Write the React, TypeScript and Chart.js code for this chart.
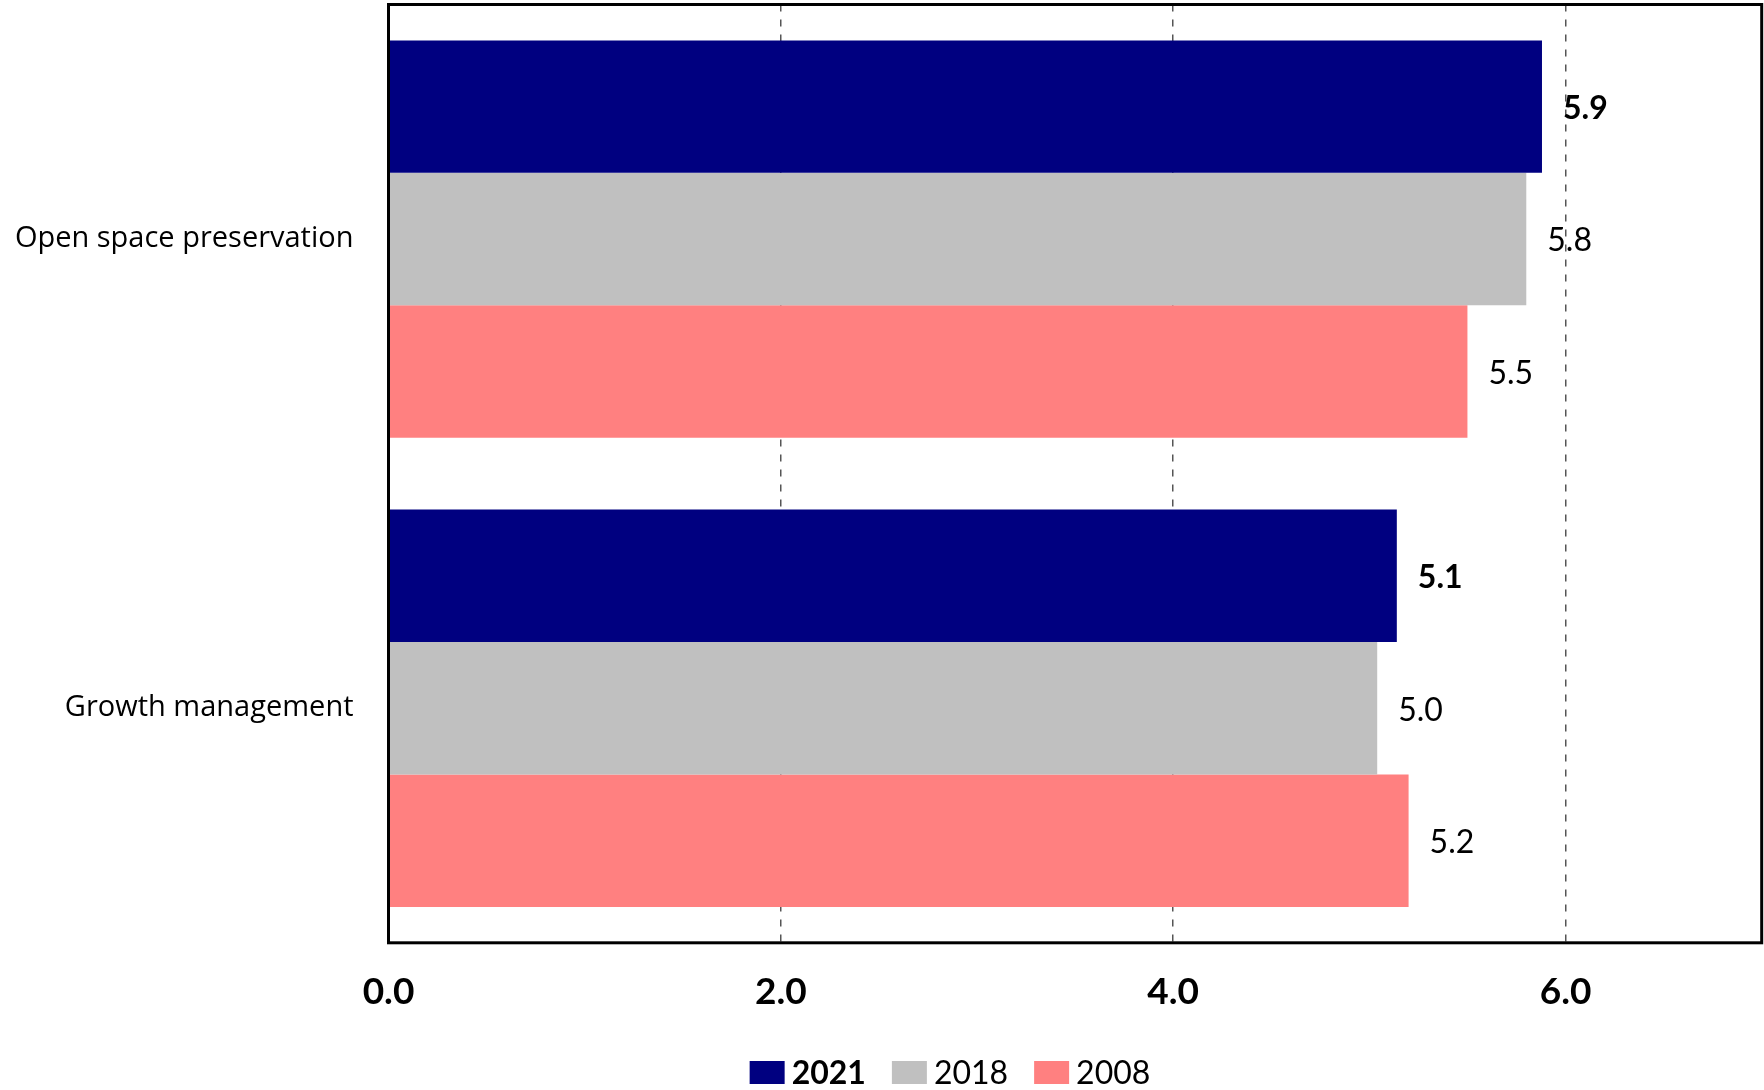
import React, { useEffect, useRef } from "react";
import { Chart, registerables } from "chart.js";

Chart.register(...registerables);

const categories = ["Open space preservation", "Growth management"];
const seriesNames = ["2021", "2018", "2008"];
const values2021 = [5.88, 5.14];
const values2018 = [5.8, 5.04];
const values2008 = [5.5, 5.2];
const seriesColors = ["#000080", "#C0C0C0", "#FF8080"];
const seriesBold = [true, false, false];
const xTicks = [0, 2, 4, 6];
const xMin = 0;
const xMax = 7;

const FONT = "Lato";
const W = 1764;
const H = 1090;

const framePlugin = {
  id: "frameAndLabels",
  afterDatasetsDraw(chart: any) {
    const { ctx, chartArea } = chart;
    ctx.save();
    chart.data.datasets.forEach((ds: any, di: number) => {
      const meta = chart.getDatasetMeta(di);
      meta.data.forEach((el: any, i: number) => {
        const v = ds.data[i];
        ctx.font = `${seriesBold[di] ? "bold " : ""}32px ${FONT}`;
        ctx.fillStyle = "#000";
        ctx.textAlign = "left";
        ctx.textBaseline = "middle";
        ctx.fillText(v.toFixed(1), el.x + 21, el.y + 2);
      });
    });
    ctx.strokeStyle = "#000";
    ctx.lineWidth = 3;
    ctx.strokeRect(
      chartArea.left,
      chartArea.top,
      chartArea.right - chartArea.left,
      chartArea.bottom - chartArea.top
    );
    ctx.restore();
  },
  afterDraw(chart: any) {
    const { ctx } = chart;
    ctx.save();
    const boxW = 35;
    const boxH = 23;
    const gapBoxText = 7;
    const gapItems = 26;
    const centerX = 950;
    const boxTop = 1061;
    const widths = seriesNames.map((n, i) => {
      ctx.font = `${seriesBold[i] ? "bold " : ""}32px ${FONT}`;
      return ctx.measureText(n).width;
    });
    let total = 0;
    widths.forEach((w, i) => {
      total += boxW + gapBoxText + w + (i < widths.length - 1 ? gapItems : 0);
    });
    let x = centerX - total / 2;
    seriesNames.forEach((n, i) => {
      ctx.fillStyle = seriesColors[i];
      ctx.fillRect(x, boxTop, boxW, boxH);
      x += boxW + gapBoxText;
      ctx.font = `${seriesBold[i] ? "bold " : ""}32px ${FONT}`;
      ctx.fillStyle = "#000";
      ctx.textAlign = "left";
      ctx.textBaseline = "middle";
      ctx.fillText(n, x, boxTop + boxH / 2 + 1);
      x += widths[i] + gapItems;
    });
    ctx.restore();
  },
};

export default function App() {
  const ref = useRef<HTMLCanvasElement>(null);
  useEffect(() => {
    if (!ref.current) return;
    const chart = new Chart(ref.current, {
      type: "bar",
      data: {
        labels: categories,
        datasets: [
          { label: seriesNames[0], data: values2021, backgroundColor: seriesColors[0] },
          { label: seriesNames[1], data: values2018, backgroundColor: seriesColors[1] },
          { label: seriesNames[2], data: values2008, backgroundColor: seriesColors[2] },
        ],
      },
      options: {
        indexAxis: "y",
        animation: false,
        responsive: false,
        devicePixelRatio: 1,
        layout: { autoPadding: false, padding: { left: 0, right: 2.3, top: 4.5, bottom: 0 } },
        datasets: {
          bar: { categoryPercentage: 0.847, barPercentage: 1, borderWidth: 0 },
        },
        plugins: {
          legend: { display: false },
          tooltip: { enabled: false },
        },
        scales: {
          x: {
            type: "linear",
            min: xMin,
            max: xMax,
            afterBuildTicks: (scale: any) => {
              scale.ticks = xTicks.map((v) => ({ value: v }));
            },
            afterFit: (scale: any) => {
              scale.height = 147.2;
              scale.paddingLeft = 0;
              scale.paddingRight = 0;
            },
            border: { display: false, dash: [7, 8] },
            grid: {
              drawTicks: false,
              lineWidth: 1.5,
              color: (c: any) => (c.tick && c.tick.value === 0 ? "rgba(0,0,0,0)" : "#555555"),
            },
            ticks: {
              padding: 27,
              color: "#000",
              font: { family: FONT, size: 37, weight: "bold" },
              callback: (v: any) => Number(v).toFixed(1),
            },
          },
          y: {
            type: "category",
            afterFit: (scale: any) => {
              scale.width = 388.5;
              scale.paddingTop = 0;
              scale.paddingBottom = 0;
            },
            border: { display: false },
            grid: { display: false, drawTicks: false },
            ticks: {
              padding: 35,
              color: "#000",
              font: { family: "Open Sans", size: 29 },
            },
          },
        },
      },
      plugins: [framePlugin],
    } as any);
    return () => chart.destroy();
  }, []);
  return (
    <div style={{ position: "fixed", left: 0, top: 0, width: W, height: H, background: "#fff" }}>
      <canvas ref={ref} width={W} height={H} style={{ display: "block", width: W, height: H }} />
    </div>
  );
}
